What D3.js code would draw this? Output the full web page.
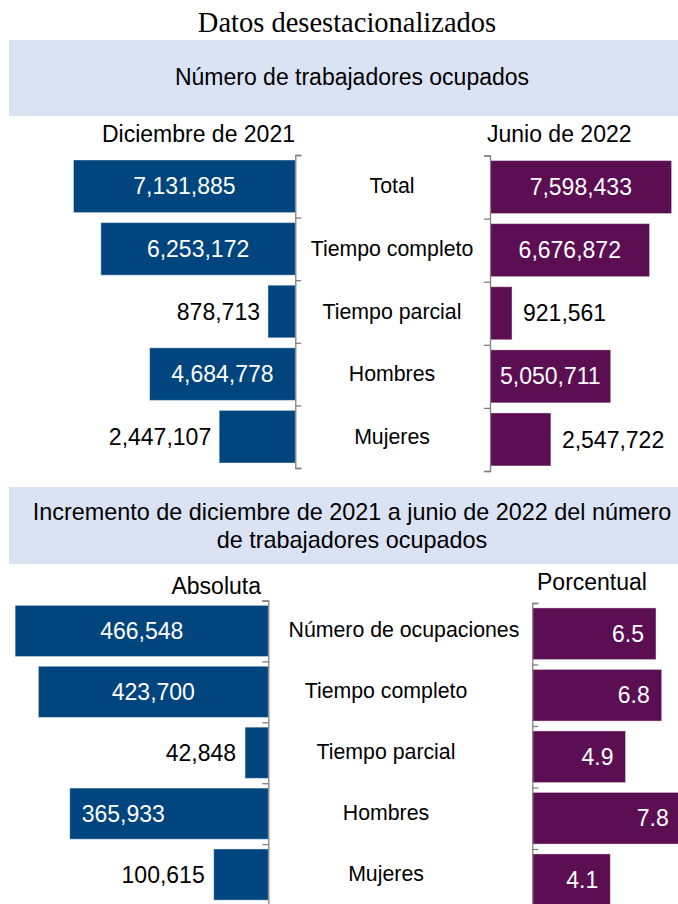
<!DOCTYPE html>
<html>
<head>
<meta charset="utf-8">
<script src="https://cdn.jsdelivr.net/npm/d3@7"></script>
<style>
  body { margin: 0; background: #fff; }
  text { font-family: "Liberation Sans", Arial, sans-serif; }
</style>
</head>
<body>
<svg id="chart" width="678" height="904"></svg>
<script>
// data
const categoriesTop = ["Total", "Tiempo completo", "Tiempo parcial", "Hombres", "Mujeres"];
const dec2021 = [7131885, 6253172, 878713, 4684778, 2447107];
const jun2022 = [7598433, 6676872, 921561, 5050711, 2547722];

const categoriesBottom = ["Número de ocupaciones", "Tiempo completo", "Tiempo parcial", "Hombres", "Mujeres"];
const incrementAbs = [466548, 423700, 42848, 365933, 100615];
const incrementPct = [6.5, 6.8, 4.9, 7.8, 4.1];

// where each absolute-increment label sits (as in the original layout)
const absLabelMode = ["center", "center", "outside", "end", "outside"];

const blue = "#01457e";
const purple = "#5b0f52";
const bandFill = "#dae3f3";
const axisGray = "#808080";

var svg = d3.select("#chart");
var fmtInt = d3.format(",");
var fmtPct = d3.format(".1f");

// title
svg.append("text")
  .attr("x", 347).attr("y", 31.5)
  .attr("text-anchor", "middle")
  .style("font-family", "'Liberation Serif', 'DejaVu Serif', serif")
  .style("font-size", "28.5px")
  .text("Datos desestacionalizados");

// header bands
svg.append("rect").attr("x", 9).attr("y", 40).attr("width", 669).attr("height", 76).attr("fill", bandFill);
svg.append("text")
  .attr("x", 352).attr("y", 85)
  .attr("text-anchor", "middle")
  .style("font-size", "23px")
  .text("Número de trabajadores ocupados");

svg.append("rect").attr("x", 9).attr("y", 487).attr("width", 669).attr("height", 77).attr("fill", bandFill);
svg.append("text")
  .attr("x", 352).attr("y", 520)
  .attr("text-anchor", "middle")
  .style("font-size", "23.4px")
  .text("Incremento de diciembre de 2021 a junio de 2022 del número");
svg.append("text")
  .attr("x", 352).attr("y", 547.5)
  .attr("text-anchor", "middle")
  .style("font-size", "23.4px")
  .text("de trabajadores ocupados");

// column headings
svg.append("text").attr("x", 295).attr("y", 141.5).attr("text-anchor", "end")
  .style("font-size", "23px").text("Diciembre de 2021");
svg.append("text").attr("x", 487).attr("y", 141.5).attr("text-anchor", "start")
  .style("font-size", "23px").text("Junio de 2022");
svg.append("text").attr("x", 261).attr("y", 594).attr("text-anchor", "end")
  .style("font-size", "23px").text("Absoluta");
svg.append("text").attr("x", 537).attr("y", 590).attr("text-anchor", "start")
  .style("font-size", "23px").text("Porcentual");

// draws one half-panel of horizontal bars
function drawPanel(opts) {
  var cats = opts.categories;
  var y = d3.scaleBand().domain(cats).range(opts.yRange)
    .paddingInner(0.16).paddingOuter(0.08);
  var yEdge = d3.scaleLinear().domain([0, cats.length]).range(opts.yRange);
  var x = opts.x;
  var x0 = x(0);
  var g = svg.append("g");

  var rows = cats.map((c, i) => ({ cat: c, value: opts.values[i], i: i }));

  g.selectAll("rect.bar")
    .data(rows)
    .enter()
    .append("rect")
    .attr("class", "bar")
    .attr("x", d => Math.min(x0, x(d.value)))
    .attr("y", d => y(d.cat))
    .attr("width", d => Math.abs(x(d.value) - x0))
    .attr("height", y.bandwidth())
    .attr("fill", opts.color)
    .attr("stroke", "rgba(255,255,255,0.4)")
    .attr("stroke-width", 1);

  // category boundary ticks
  var axis = (opts.tickSide == "right" ? d3.axisRight(yEdge) : d3.axisLeft(yEdge))
    .tickValues(d3.range(cats.length + 1))
    .tickSize(6)
    .tickFormat("");
  var ag = g.append("g").attr("transform", "translate(" + x0 + ",0)").call(axis);
  ag.selectAll("path, line").attr("stroke", axisGray).attr("stroke-width", 1.3);

  // value labels
  var dir = opts.dir; // +1 bars grow right, -1 grow left
  g.selectAll("text.val")
    .data(rows)
    .enter()
    .append("text")
    .attr("class", "val")
    .style("font-size", "23px")
    .attr("dy", "0.35em")
    .attr("y", d => y(d.cat) + y.bandwidth() / 2)
    .each(function (d) {
      var end = x(d.value);
      var mode = opts.mode(d);
      var t = d3.select(this).text(opts.format(d.value));
      if (mode == "center") {
        t.attr("x", (x0 + end) / 2).attr("text-anchor", "middle").attr("fill", "#fff");
      } else if (mode == "end") {
        t.attr("x", end - dir * 12).attr("text-anchor", dir > 0 ? "end" : "start").attr("fill", "#fff");
      } else {
        t.attr("x", end + dir * opts.outGap).attr("text-anchor", dir > 0 ? "start" : "end").attr("fill", "#000");
      }
    });

  return y;
}

// top section
var yTop = drawPanel({
  categories: categoriesTop,
  values: dec2021,
  yRange: [155, 468],
  x: d3.scaleLinear().domain([0, 8000000]).range([295.3, 46.5]),
  color: blue,
  tickSide: "right",
  dir: -1,
  outGap: 8,
  format: fmtInt,
  mode: d => (dec2021[d.i] * 3.11e-5 < 110 ? "outside" : "center")
});
drawPanel({
  categories: categoriesTop,
  values: jun2022,
  yRange: [155.5, 471],
  x: d3.scaleLinear().domain([0, 8000000]).range([490, 681.2]),
  color: purple,
  tickSide: "left",
  dir: 1,
  outGap: 11,
  format: fmtInt,
  mode: d => (jun2022[d.i] * 2.39e-5 < 110 ? "outside" : "center")
});

// bottom section
var yBottom = drawPanel({
  categories: categoriesBottom,
  values: incrementAbs,
  yRange: [600.5, 905],
  x: d3.scaleLinear().domain([0, 500000]).range([268.3, -3]),
  color: blue,
  tickSide: "left",
  dir: -1,
  outGap: 9,
  format: fmtInt,
  mode: d => absLabelMode[d.i]
});
drawPanel({
  categories: categoriesBottom,
  values: incrementPct,
  yRange: [603, 910.5],
  x: d3.scaleLinear().domain([0, 10]).range([532.3, 722.6]),
  color: purple,
  tickSide: "right",
  dir: 1,
  outGap: 10,
  format: fmtPct,
  mode: d => "end"
});

// category names in the middle column
svg.append("g").selectAll("text")
  .data(categoriesTop)
  .enter()
  .append("text")
  .attr("x", 392)
  .attr("y", d => yTop(d) + yTop.bandwidth() / 2)
  .attr("dy", "0.33em")
  .attr("text-anchor", "middle")
  .style("font-size", "21.3px")
  .text(d => d);

svg.append("g").selectAll("text")
  .data(categoriesBottom)
  .enter()
  .append("text")
  .attr("y", d => yBottom(d) + yBottom.bandwidth() / 2)
  .attr("dy", "0.3em")
  .attr("text-anchor", "middle")
  .style("font-size", "21.3px")
  .text(d => d)
  .each(function () {
    // keep long names clear of the left axis
    var w = this.getComputedTextLength();
    d3.select(this).attr("x", Math.max(386, 288.5 + w / 2));
  });
</script>
</body>
</html>
